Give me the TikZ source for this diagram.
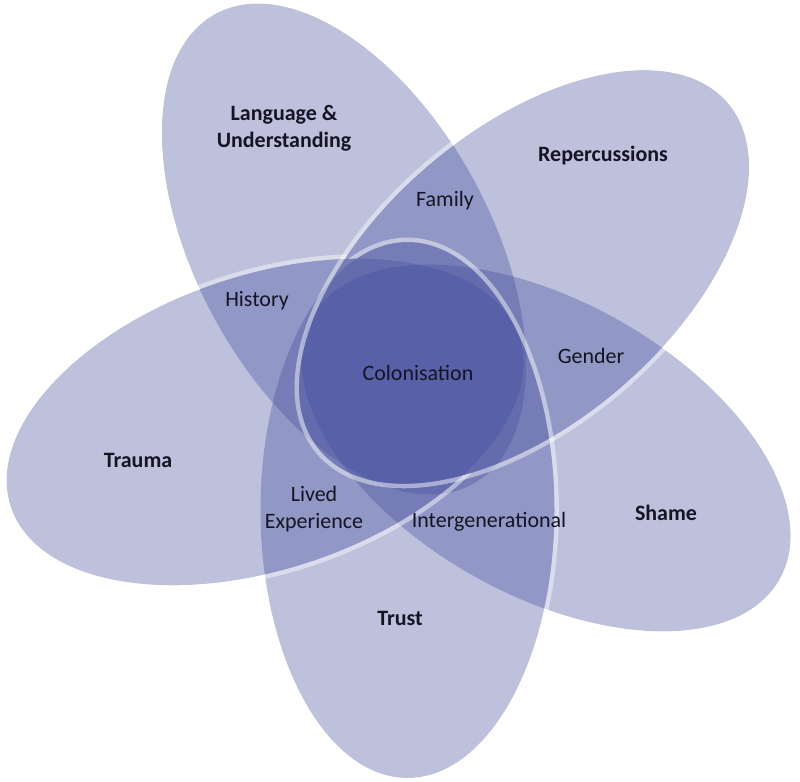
\documentclass[tikz,border=0pt]{standalone}
\usepackage{fontspec}
\setmainfont{Carlito}
\definecolor{petal}{RGB}{66,76,155}
\definecolor{ink}{RGB}{20,20,35}
% clip away one petal: centre x, centre y, axis angle, perpendicular angle
\newcommand\petalhole[4]{%
  \pgfseteorule
  \pgfpathrectanglecorners{\pgfpoint{-50cm}{-50cm}}{\pgfpoint{50cm}{50cm}}%
  \pgfpathellipse{\pgfpointxy{#1}{#2}}{\pgfpointpolarxy{#3}{268}}{\pgfpointpolarxy{#4}{147}}%
  \pgfusepath{clip}}
\newcommand\holeS{\petalhole{546}{-448}{-29.3}{60.7}}
\newcommand\holeL{\petalhole{344}{-249}{118.7}{208.7}}
\newcommand\holeT{\petalhole{407.5}{-510}{-90}{0}}
\newcommand\holeM{\petalhole{265}{-422}{198.5}{288.5}}
\newcommand\holeR{\petalhole{524}{-277}{40.5}{130.5}}
\begin{document}
\begin{tikzpicture}[x=0.02cm,y=0.02cm,
  pS/.style={shift={(546,-448)},rotate=-29.3},
  pL/.style={shift={(344,-249)},rotate=118.7},
  pT/.style={shift={(407.5,-510)},rotate=-90},
  pM/.style={shift={(265,-422)},rotate=198.5},
  pR/.style={shift={(524,-277)},rotate=40.5},
  petalfill/.style={fill=petal,fill opacity=0.35},
  rim/.style={draw=white,draw opacity=0.45,line width=5pt},
  lab/.style={text=ink,font=\fontsize{12.5}{15.5}\selectfont,align=center,inner sep=0pt},
  blab/.style={lab,font=\fontsize{12.5}{15.5}\selectfont\bfseries}]
\useasboundingbox (0,0) rectangle (800,-781);
% petals
\fill[petalfill,pS] (0,0) ellipse [x radius=268,y radius=147];
\fill[petalfill,pL] (0,0) ellipse [x radius=268,y radius=147];
\fill[petalfill,pT] (0,0) ellipse [x radius=268,y radius=147];
\fill[petalfill,pM] (0,0) ellipse [x radius=268,y radius=147];
\fill[petalfill,pR] (0,0) ellipse [x radius=268,y radius=147];
% rims: shown only outside their own petal and outside the petals laid over them
\begin{scope}
  \holeS\holeL\holeT\holeM\holeR
  \path[rim,pS] (0,0) ellipse [x radius=268,y radius=147];
\end{scope}
\begin{scope}
  \holeL\holeT\holeM\holeR
  \path[rim,pL] (0,0) ellipse [x radius=268,y radius=147];
\end{scope}
\begin{scope}
  \holeT\holeM
  \path[rim,pT] (0,0) ellipse [x radius=268,y radius=147];
\end{scope}
\begin{scope}
  \holeM\holeR
  \path[rim,pM] (0,0) ellipse [x radius=268,y radius=147];
\end{scope}
\begin{scope}
  \holeR
  \path[rim,pR] (0,0) ellipse [x radius=268,y radius=147];
\end{scope}
% labels
\node[blab] (lang) at (284,-128) {Language \&\\Understanding};
\node[blab] (rep) at (603,-156) {Repercussions};
\node[lab] (fam) at (445,-201) {Family};
\node[lab] (hist) at (257,-301) {History};
\node[lab] (col) at (418,-373) {Colonisation};
\node[lab] (gen) at (591,-356) {Gender};
\node[blab] (trau) at (138,-460) {Trauma};
\node[lab] (lived) at (314,-509) {Lived\\Experience};
\node[lab] (inter) at (489,-522) {Intergenerational};
\node[blab] (shame) at (666,-513) {Shame};
\node[blab] (trust) at (400,-618) {Trust};
\end{tikzpicture}
\end{document}
